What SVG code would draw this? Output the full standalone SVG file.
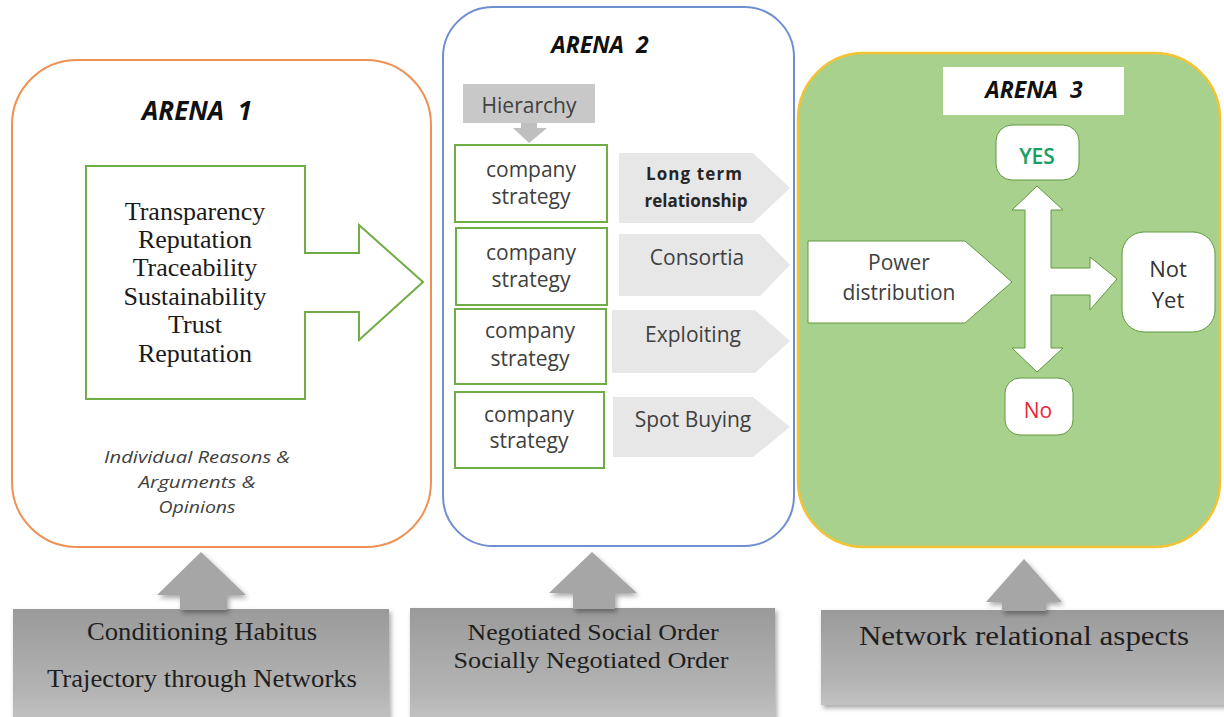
<svg xmlns="http://www.w3.org/2000/svg" width="1224" height="717" viewBox="0 0 1224 717">
  <defs>
    <linearGradient id="greyBox" x1="0" y1="0" x2="0" y2="1">
      <stop offset="0" stop-color="#9a9a9a"/>
      <stop offset="0.75" stop-color="#b4b4b4"/>
      <stop offset="1" stop-color="#c2c2c2"/>
    </linearGradient>
    <filter id="shadow" x="-10%" y="-10%" width="125%" height="130%">
      <feDropShadow dx="2" dy="3" stdDeviation="2.5" flood-color="#000" flood-opacity="0.35"/>
    </filter>
    <style>
      .arena-title { font-family: "Open Sans", "Liberation Sans", sans-serif; font-weight: 700; font-style: italic; font-size: 23px; fill: #111; text-anchor: middle; white-space: pre; }
      .big-title { font-size: 26px; }
      .serif-list { font-family: "Liberation Serif", "Times New Roman", serif; font-size: 26px; fill: #1a1a1a; text-anchor: middle; }
      .note { font-family: "Open Sans", "Liberation Sans", sans-serif; font-style: italic; font-size: 17px; fill: #404040; text-anchor: middle; }
      .green-box { fill: #fff; stroke: #70ad47; stroke-width: 2; }
      .label { font-family: "Open Sans", "Liberation Sans", sans-serif; font-size: 21px; fill: #404040; text-anchor: middle; }
      .label-bold { font-family: "Open Sans", "Liberation Sans", sans-serif; font-size: 17px; font-weight: 700; fill: #262626; text-anchor: middle; }
      .chevron { fill: #e7e7e7; }
      .white-shape { fill: #fff; stroke: #5e9a3c; stroke-width: 1; }
      .grey-arrow { fill: #a6a6a6; }
      .base-box { fill: url(#greyBox); }
      .base-text { font-family: "Liberation Serif", "Times New Roman", serif; font-size: 26px; fill: #1e1e1e; text-anchor: middle; }
      .tight { font-size: 23.5px; }
      .large { font-size: 28px; }
      .yes { fill: #17a064; font-weight: 600; }
      .no { fill: #e8283a; }
      .dark { fill: #333; font-size: 22px; }
    </style>
  </defs>

  <rect width="1224" height="717" fill="#fff"/>

  <!-- Arena 1 -->
  <g id="arena1">
    <rect x="12" y="60" width="419" height="487" rx="65" ry="65" fill="#fff" stroke="#ef9155" stroke-width="2"/>
    <text class="arena-title big-title" x="197" y="120">ARENA  1</text>
  </g>
  <g id="values-arrow">
    <polygon class="green-box" points="86,166 305,166 305,253 359,253 359,225 423,282 359,340 359,312 305,312 305,399 86,399"/>
    <text class="serif-list" x="195" y="220">Transparency</text>
    <text class="serif-list" x="195" y="248">Reputation</text>
    <text class="serif-list" x="195" y="276">Traceability</text>
    <text class="serif-list" x="195" y="305">Sustainability</text>
    <text class="serif-list" x="195" y="333">Trust</text>
    <text class="serif-list" x="195" y="362">Reputation</text>
  </g>
  <g id="arena1-note">
    <text class="note" x="197" y="463" textLength="186" lengthAdjust="spacingAndGlyphs">Individual Reasons &amp;</text>
    <text class="note" x="197" y="488" textLength="117" lengthAdjust="spacingAndGlyphs">Arguments &amp;</text>
    <text class="note" x="197" y="513" textLength="77" lengthAdjust="spacingAndGlyphs">Opinions</text>
  </g>

  <!-- Arena 2 -->
  <g id="arena2">
    <rect x="443" y="7" width="351" height="539" rx="50" ry="50" fill="#fff" stroke="#6f8fd0" stroke-width="2"/>
    <text class="arena-title" x="600" y="53">ARENA  2</text>
  </g>
  <g id="hierarchy">
    <rect x="463" y="84" width="132" height="39" fill="#c8c8c8"/>
    <text class="label" x="529" y="113">Hierarchy</text>
  </g>

  <g id="strategy1">
    <rect class="green-box" x="455" y="145" width="152" height="77"/>
    <text class="label" x="531" y="177">company</text>
    <text class="label" x="531" y="204">strategy</text>
  </g>
  <g id="strategy2">
    <rect class="green-box" x="456" y="228" width="151" height="77"/>
    <text class="label" x="531" y="260">company</text>
    <text class="label" x="531" y="287">strategy</text>
  </g>
  <g id="strategy3">
    <rect class="green-box" x="455" y="309" width="151" height="75"/>
    <text class="label" x="530" y="338">company</text>
    <text class="label" x="530" y="366">strategy</text>
  </g>
  <g id="strategy4">
    <rect class="green-box" x="455" y="392" width="149" height="76"/>
    <text class="label" x="529" y="422">company</text>
    <text class="label" x="529" y="448">strategy</text>
  </g>

  <g id="long-term">
    <polygon class="chevron" points="619,153 753,153 790,188 753,223 619,223"/>
    <text class="label-bold" x="694" y="180" textLength="96">Long term</text>
    <text class="label-bold" x="696" y="207">relationship</text>
  </g>
  <g id="consortia">
    <polygon class="chevron" points="619,234 760,234 790,265 760,296 619,296"/>
    <text class="label" x="697" y="265">Consortia</text>
  </g>
  <g id="exploiting">
    <polygon class="chevron" points="612,310 755,310 790,341 755,373 612,373"/>
    <text class="label" x="693" y="342">Exploiting</text>
  </g>
  <g id="spot-buying">
    <polygon class="chevron" points="613,397 753,397 790,427 753,457 613,457"/>
    <text class="label" x="693" y="427">Spot Buying</text>
  </g>

  <!-- Arena 3 -->
  <g id="arena3">
    <rect x="798" y="53" width="422" height="494" rx="66" ry="66" fill="#a9d18e" stroke="#f2c332" stroke-width="2.5"/>
    <rect x="943" y="67" width="181" height="48" fill="#fff"/>
    <text class="arena-title" x="1034" y="98">ARENA  3</text>
  </g>
  <g id="power">
    <polygon class="white-shape" points="808,241 965,241 1012,282 965,323 808,323"/>
    <text class="label" x="899" y="270">Power</text>
    <text class="label" x="899" y="300" textLength="113">distribution</text>
  </g>
  <g id="yes">
    <rect class="white-shape" x="996" y="125" width="83" height="55" rx="16" ry="16"/>
    <text class="label yes" x="1037" y="164">YES</text>
  </g>
  <g id="not-yet">
    <rect class="white-shape" x="1122" y="232" width="93" height="100" rx="22" ry="22"/>
    <text class="label dark" x="1168" y="277">Not</text>
    <text class="label dark" x="1168" y="308">Yet</text>
  </g>
  <g id="no">
    <rect class="white-shape" x="1005" y="378" width="68" height="57" rx="15" ry="15"/>
    <text class="label no" x="1038" y="418">No</text>
  </g>

  <!-- Bottom conditions -->
  <g id="habitus">
    <rect class="base-box" x="13" y="609" width="376" height="112" filter="url(#shadow)"/>
    <text class="base-text" x="202" y="640" textLength="230" lengthAdjust="spacingAndGlyphs">Conditioning Habitus</text>
    <text class="base-text" x="202" y="687" textLength="310" lengthAdjust="spacingAndGlyphs">Trajectory through Networks</text>
  </g>
  <g id="social-order">
    <rect class="base-box" x="410" y="608" width="365" height="112" filter="url(#shadow)"/>
    <text class="base-text tight" x="593" y="640" textLength="251" lengthAdjust="spacingAndGlyphs">Negotiated Social Order</text>
    <text class="base-text tight" x="591" y="668" textLength="275" lengthAdjust="spacingAndGlyphs">Socially Negotiated Order</text>
  </g>
  <g id="relational">
    <rect class="base-box" x="821" y="610" width="405" height="95" filter="url(#shadow)"/>
    <text class="base-text large" x="1024" y="645" textLength="330" lengthAdjust="spacingAndGlyphs">Network relational aspects</text>
  </g>

  <!-- Connectors -->
  <g id="connectors">
    <!-- hierarchy feeds the first strategy -->
    <polygon fill="#bfbfbf" points="521,123 537,123 537,128 547,128 529,143 513,128 521,128"/>
    <!-- power distribution splits three ways -->
    <polygon class="white-shape" points="1037,186 1063,210 1051,210 1051,268 1090,268 1090,257 1117,279 1090,310 1090,295 1051,295 1051,348 1063,348 1037,372 1012,348 1025,348 1025,210 1012,210"/>
    <!-- conditions feeding each arena -->
    <polygon class="grey-arrow" filter="url(#shadow)" points="201,552 246,595 227,595 227,610 180,610 180,595 157,595"/>
    <polygon class="grey-arrow" filter="url(#shadow)" points="592,552 637,593 615,593 615,609 573,609 573,593 549,593"/>
    <polygon class="grey-arrow" filter="url(#shadow)" points="1024,559 1062,602 1046,602 1046,611 1002,611 1002,602 986,602"/>
  </g>
</svg>
